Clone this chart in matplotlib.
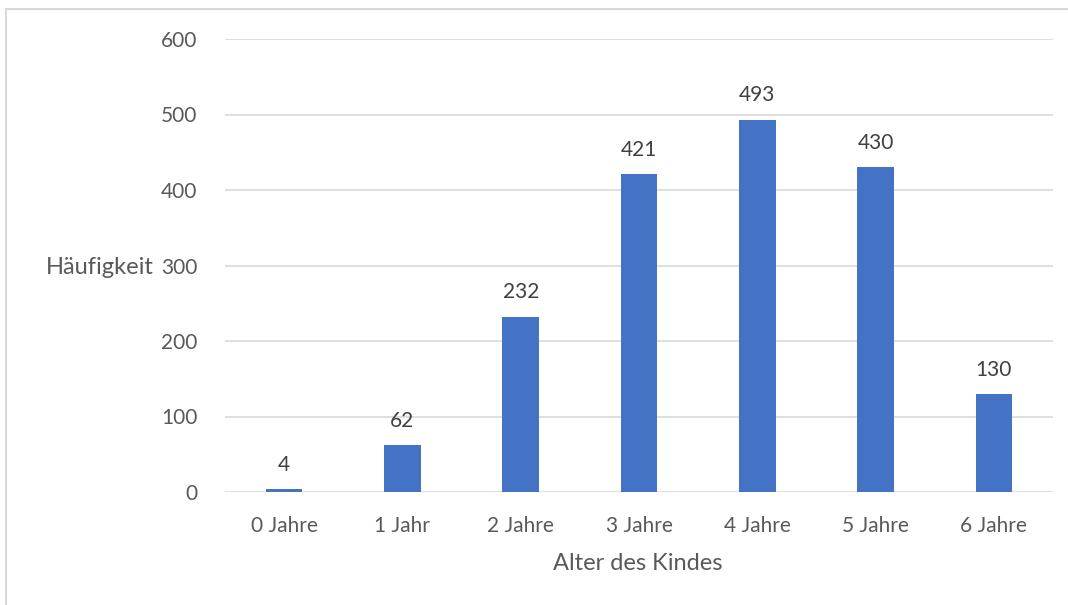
import matplotlib.pyplot as plt
from matplotlib.patches import Rectangle

categories = ["0 Jahre", "1 Jahr", "2 Jahre", "3 Jahre", "4 Jahre", "5 Jahre", "6 Jahre"]
counts = [4, 62, 232, 421, 493, 430, 130]
y_ticks = [0, 100, 200, 300, 400, 500, 600]

text_col = "#595959"
bar_col = "#4472C4"
grid_col = "#D9D9D9"

plt.rcParams['font.family'] = ['Lato', 'DejaVu Sans']

W, H = 1068, 605
fig = plt.figure(figsize=(W / 100, H / 100), dpi=100)
ax = fig.add_axes([225 / W, 1 - 492 / H, (1053 - 225) / W, (492 - 39) / H])

x = range(len(categories))
bars = ax.bar(x, counts, width=0.31, color=bar_col, zorder=3)
for b, v in zip(bars, counts):
    ax.text(b.get_x() + b.get_width() / 2, v + 19, str(v), ha='center', va='bottom',
            fontsize=15, color="#404040")

ax.set_xlim(-0.5, len(categories) - 0.5)
ax.set_ylim(0, 600)
ax.set_yticks(y_ticks)
ax.set_xticks(list(x))
ax.set_xticklabels(categories)
ax.tick_params(axis='both', length=0, labelsize=15, colors=text_col)
ax.tick_params(axis='y', pad=20)
ax.tick_params(axis='x', pad=17)
ax.yaxis.grid(True, color=grid_col, linewidth=1.2, zorder=0)
for s in ax.spines.values():
    s.set_visible(False)

fig.text(100 / W, 1 - 268 / H, "Häufigkeit", ha='center', va='center', fontsize=17, color=text_col)
fig.text(638 / W, 1 - 563 / H, "Alter des Kindes", ha='center', va='center', fontsize=17, color=text_col)

# chart frame
fig.patches.append(Rectangle((6 / W, -0.05), 1.05, 1 - 9 / H + 0.05, transform=fig.transFigure,
                             fill=False, edgecolor="#D9D9D9", linewidth=1.5))

fig.savefig("out.png", dpi=100)
